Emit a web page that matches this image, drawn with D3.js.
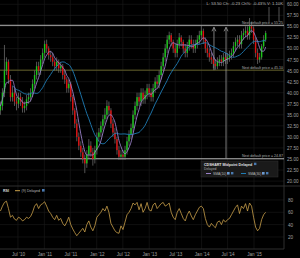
<!DOCTYPE html>
<html>
<head>
<meta charset="utf-8">
<script src="https://cdn.jsdelivr.net/npm/d3@7"></script>
<style>
  body { margin: 0; background: #000; }
  svg { display: block; font-family: "Liberation Sans", Arial, sans-serif; }
</style>
</head>
<body>
<div id="chart"></div>
<script>
// -------- DATA (biweekly candles) --------
const startDate = new Date(2010, 2, 1);
const stepDays = 14;

const closes = [37,40,45,47,43,39,40,38,37.5,39,
  38,36.5,37,38.5,39,40,42,44,46,45,
  47.5,49,51,50,48.5,48,47,46,47,45.5,
  46,44,43,41,42,39,36,33,30,28,
  26.5,25,24,26,28,26.5,25,27,30,31,
  32.5,34,35,37,36,33,31,29.5,27,25.5,
  26,25.5,27,29,30.5,32,35,37,39,38,
  40,38.5,39.5,41,40,39,41,42.5,42,44,
  46,48,50,52,53,51.5,50,49,51,52.5,
  51.5,50,49,50.5,52,51,50,51,52,53,
  54,52,50,49,48,47.5,46.5,46,47,47.5,
  47,48,47.5,48,48.5,49,50.5,51.5,52,51,
  53,53.5,54,53,55,54.5,52,49,47.5,48,
  50.5,52,53.5];

const highs = [38,41,50.8,48,47.5,44,41.5,41,39,40,
  40,39,38,39.5,40,41,43,45,47,47,
  48.5,50,51.8,52,50.5,49.5,49,47.5,48,47.5,
  47,46.5,45,43.5,43,42.5,39.5,36.5,34,31,
  29,27.5,26,27,29.5,29,27.5,28,31,32,
  33.5,35,36.5,38.3,38,36.5,34,32,30,28,
  27,27,28,30,31.5,33,36,38,40,40,
  41,41,40.5,42,42,41,42,43.5,44,45,
  47,49,51,53,53.8,53.5,52,51,52,53.5,
  53,52,51,51.5,53,53,52,52,53,54,
  55.3,54.5,52.5,51,50,49,48,47.5,48,48.5,
  48.5,49,49,49,49.5,50,51.5,52.5,53,53,
  54,54.5,55,55,56.9,56,55,52.5,50,49,
  51,53,54];

const lows = [35,36,39,44,42,38,38,37,36,36.5,
  37,35.5,35.5,36,37.5,38,39,41,43,44,
  44,46.5,48,49,47.5,47,46,45,45,44.5,
  44.5,43,42,40,40,38,35,32,29,27,
  25.5,24,21.8,23,25,25.5,23.5,24,26,29,
  30,31.5,33,34,35,32,30,28.5,26,24.8,
  24.8,24.8,24.8,26,28,29.5,31,34,36,37,
  37,37.5,37.5,38.5,39,38,38,40,41,41,
  43,45,47,49,51,50.5,49,48,48,50,
  50.5,49,48,48,49.5,50,49,49,50,51,
  52,51,49,48,47,46.5,45.5,45.2,45.3,46,
  46,46,46.5,46.5,47,47.5,48,49.5,50.5,50,
  50,52,52.5,52,52,53.5,51,48,46.5,46.8,
  47.5,50,51.5];

const rsiValues = [62,70,76,78,66,52,55,49,47,52,
  50,46,48,52,50,53,60,70,74,66,
  72,74,77,70,62,58,52,48,55,47,
  50,42,38,44,52,40,33,27,22,26,
  30,34,28,40,46,36,30,38,52,56,
  60,66,62,70,60,42,36,30,27,26,
  38,32,44,56,60,66,75,72,76,64,
  74,60,66,76,64,62,72,75,66,70,
  74,76,70,72,75,60,52,48,60,66,
  58,50,46,56,62,54,48,56,62,68,
  70,66,50,40,36,42,38,35,44,46,
  40,48,44,48,50,56,62,68,72,58,
  70,66,74,62,75,70,52,36,30,34,
  48,56,60];

const firstOpen = 36;

const xTickDates = [[2010,6],[2011,0],[2011,6],[2012,0],[2012,6],[2013,0],[2013,6],[2014,0],[2014,6],[2015,0]];
const xTickLabels = ["Jul '10","Jan '11","Jul '11","Jan '12","Jul '12","Jan '13","Jul '13","Jan '14","Jul '14","Jan '15"];
const priceTicks = [20,22.5,25,27.5,30,32.5,35,37.5,40,42.5,45,47.5,50,52.5,55,57.5,60];
const rsiTicks = [20,40,60,80];

const levels = [55.25, 45.1, 25.05];
const levelLabels = ["Next default price = 55.25", "Next default price = 45.10", "Next default price = 24.87"];
const levelColors = ["#c8c8c8", "#6e6a2c", "#c8c8c8"];

// Pfeile: Datum, von Level, bis Level
const arrowDates = [[2014, 2, 28], [2014, 5, 20]];
const arrowFrom = [45.1, 25.05];
const arrowTo = [55.25, 55.25];

// SMA windows in biweekly bars (10 and 30 weeks)
const smaShort = 5, smaLong = 15;

// -------- LAYOUT --------
const width = 300, height = 258;
const plotRight = 284;
const mainTop = 0, mainBottom = 186;
const rsiTop = 188, rsiBottom = 249;

const svg = d3.select("#chart").append("svg")
  .attr("width", width).attr("height", height);

svg.append("rect").attr("width", width).attr("height", height).attr("fill", "#000");

const dates = closes.map((d, i) => d3.timeDay.offset(startDate, stepDays * i));
const candles = closes.map((c, i) => ({
  date: dates[i],
  open: i === 0 ? firstOpen : closes[i - 1],
  close: c,
  high: highs[i],
  low: lows[i]
}));

const x = d3.scaleTime()
  .domain([new Date(2010, 1, 26), new Date(2015, 7, 5)])
  .range([0, 285]);

const y = d3.scaleLinear()
  .domain([18.89, 60.97])
  .range([mainBottom, mainTop]);

const yRsi = d3.scaleLinear()
  .domain([0, 100])
  .range([249.3, 187.6]);

const tickDates = xTickDates.map(d => new Date(d[0], d[1], 1));

// --- Gitter ---
const grid = svg.append("g").attr("stroke", "#1b1b1b").attr("stroke-width", 0.6);
grid.selectAll(".vg").data(tickDates).join("line")
  .attr("x1", d => x(d)).attr("x2", d => x(d))
  .attr("y1", mainTop).attr("y2", rsiBottom);
grid.selectAll(".hg").data(priceTicks).join("line")
  .attr("x1", 0).attr("x2", plotRight)
  .attr("y1", d => y(d)).attr("y2", d => y(d));
grid.selectAll(".rg").data(rsiTicks).join("line")
  .attr("x1", 0).attr("x2", plotRight)
  .attr("y1", d => yRsi(d)).attr("y2", d => yRsi(d));

// --- Panel-Rahmen ---
const frame = svg.append("g").attr("stroke", "#3a3a3a").attr("stroke-width", 0.8).attr("fill", "none");
frame.append("line").attr("x1", plotRight).attr("x2", plotRight).attr("y1", 0).attr("y2", rsiBottom);
frame.append("line").attr("x1", 0).attr("x2", width).attr("y1", mainBottom).attr("y2", mainBottom);
frame.append("line").attr("x1", 0).attr("x2", plotRight).attr("y1", rsiBottom).attr("y2", rsiBottom);

// --- Level-Linien ---
svg.append("g").selectAll("line").data(levels).join("line")
  .attr("x1", 0).attr("x2", plotRight)
  .attr("y1", d => y(d)).attr("y2", d => y(d))
  .attr("stroke", (d, i) => levelColors[i])
  .attr("stroke-width", 0.9);

svg.append("g").selectAll("text").data(levels).join("text")
  .attr("x", plotRight - 1)
  .attr("y", d => y(d) - 1.3)
  .attr("text-anchor", "end")
  .attr("fill", "#b0b0b0")
  .attr("font-size", 3.6)
  .text((d, i) => levelLabels[i]);

// --- Pfeile ---
const arrowG = svg.append("g").attr("stroke", "#9a9a9a").attr("stroke-width", 0.8).attr("fill", "none");
arrowDates.forEach((d, i) => {
  const ax = x(new Date(d[0], d[1], d[2]));
  const yTop = y(arrowTo[i]) + 2;
  arrowG.append("line").attr("x1", ax).attr("x2", ax).attr("y1", y(arrowFrom[i])).attr("y2", yTop);
  arrowG.append("path").attr("d", `M${ax - 2},${yTop + 4} L${ax},${yTop} L${ax + 2},${yTop + 4}`);
});

// --- Kerzen ---
const candleG = svg.append("g");
candleG.selectAll("line").data(candles).join("line")
  .attr("x1", d => x(d.date)).attr("x2", d => x(d.date))
  .attr("y1", d => y(d.high)).attr("y2", d => y(d.low))
  .attr("stroke", "#8c8c8c").attr("stroke-width", 0.6);
candleG.selectAll("rect").data(candles).join("rect")
  .attr("x", d => x(d.date) - 0.7)
  .attr("width", 1.4)
  .attr("y", d => y(Math.max(d.open, d.close)))
  .attr("height", d => Math.max(0.6, Math.abs(y(d.open) - y(d.close))))
  .attr("fill", d => d.close >= d.open ? "#19c819" : "#e01010");

// --- SMAs ---
const sma = (w) => closes.map((c, i) => ({date: dates[i], value: d3.mean(closes.slice(Math.max(0, i - w + 1), i + 1))}));
const line = d3.line().x(d => x(d.date)).y(d => y(d.value)).curve(d3.curveMonotoneX);
svg.append("path").datum(sma(smaLong).slice(6))
  .attr("d", line).attr("fill", "none").attr("stroke", "#1f7db5").attr("stroke-width", 0.9);
svg.append("path").datum(sma(smaShort))
  .attr("d", line).attr("fill", "none").attr("stroke", "#9a80c8").attr("stroke-width", 0.9);

// --- Preis-Achse ---
const yAxisG = svg.append("g")
  .attr("transform", `translate(${plotRight}, 0)`)
  .call(d3.axisRight(y).tickValues(priceTicks).tickFormat(d3.format(".2f")).tickSize(0).tickPadding(3));
yAxisG.select(".domain").remove();
yAxisG.selectAll("text").attr("fill", "#a0a0a0").attr("font-size", 4.6).attr("font-family", "Liberation Sans, Arial");

// --- RSI ---
const rsiData = rsiValues.map((v, i) => ({date: dates[i], value: v}));
svg.append("path").datum(rsiData)
  .attr("d", d3.line().x(d => x(d.date)).y(d => yRsi(d.value)))
  .attr("fill", "none").attr("stroke", "#c9a04a").attr("stroke-width", 0.8);

const rsiAxisG = svg.append("g")
  .attr("transform", `translate(${plotRight}, 0)`)
  .call(d3.axisRight(yRsi).tickValues(rsiTicks).tickSize(0).tickPadding(4));
rsiAxisG.select(".domain").remove();
rsiAxisG.selectAll("text").attr("fill", "#a0a0a0").attr("font-size", 4.6).attr("font-family", "Liberation Sans, Arial");

// --- X-Achse ---
const xAxisG = svg.append("g")
  .attr("transform", `translate(0, ${rsiBottom})`)
  .call(d3.axisBottom(x).tickValues(tickDates).tickFormat((d, i) => xTickLabels[i]).tickSize(0).tickPadding(4));
xAxisG.select(".domain").remove();
xAxisG.selectAll("text").attr("fill", "#a0a0a0").attr("font-size", 4.6).attr("font-family", "Liberation Sans, Arial");

// --- Info-Zeile oben ---
svg.append("text").attr("x", 283).attr("y", 5).attr("text-anchor", "end")
  .attr("fill", "#b8b8b8").attr("font-size", 4.2)
  .text("L: 53.50  Ch: -0.23  Ch%: -0.43%  V: 1.10K");
svg.append("g").attr("stroke", "#8a8a8a").attr("stroke-width", 0.6)
  .selectAll("line").data([269, 279]).join("line")
  .attr("x1", d => d).attr("x2", d => d).attr("y1", 7).attr("y2", 22);

// --- Legende ---
const leg = svg.append("g").attr("transform", "translate(201, 161)");
leg.append("rect").attr("width", 77).attr("height", 16).attr("fill", "#1a1a1a").attr("stroke", "#333").attr("stroke-width", 0.5);
leg.append("text").attr("x", 3).attr("y", 4.5).attr("fill", "#e0e0e0").attr("font-size", 3.6).attr("font-weight", "bold")
  .text("CDSHART Midpoint Delayed");
leg.append("rect").attr("x", 53).attr("y", 1.7).attr("width", 2.4).attr("height", 2.4).attr("fill", "#4a7ab0");
leg.append("text").attr("x", 3).attr("y", 9).attr("fill", "#aaa").attr("font-size", 3.4).text("Delayed");
const legItems = [{label: "SMA(10)", color: "#9a80c8", x: 5}, {label: "SMA(30)", color: "#1f7db5", x: 40}];
legItems.forEach(it => {
  leg.append("line").attr("x1", it.x).attr("x2", it.x + 5).attr("y1", 12.5).attr("y2", 12.5).attr("stroke", it.color).attr("stroke-width", 1);
  leg.append("text").attr("x", it.x + 7).attr("y", 14).attr("fill", "#bbb").attr("font-size", 3.4).text(it.label);
  leg.append("rect").attr("x", it.x + 21).attr("y", 11).attr("width", 2.6).attr("height", 2.6).attr("fill", "#6a9ad0");
  leg.append("rect").attr("x", it.x + 25).attr("y", 11).attr("width", 2.4).attr("height", 2.4).attr("fill", "#4a7ab0");
});

// --- RSI-Label ---
const rl = svg.append("g").attr("transform", "translate(3, 192)");
rl.append("text").attr("x", 0).attr("y", 0).attr("fill", "#ddd").attr("font-size", 3.6).attr("font-weight", "bold").text("RSI");
rl.append("line").attr("x1", 12).attr("x2", 17).attr("y1", -1.3).attr("y2", -1.3).attr("stroke", "#c9a04a").attr("stroke-width", 1);
rl.append("text").attr("x", 18.5).attr("y", 0).attr("fill", "#bbb").attr("font-size", 3.6).text("(9) Delayed");
rl.append("rect").attr("x", 39).attr("y", -3).attr("width", 2.6).attr("height", 2.6).attr("fill", "#4a7ab0");
</script>
</body>
</html>
